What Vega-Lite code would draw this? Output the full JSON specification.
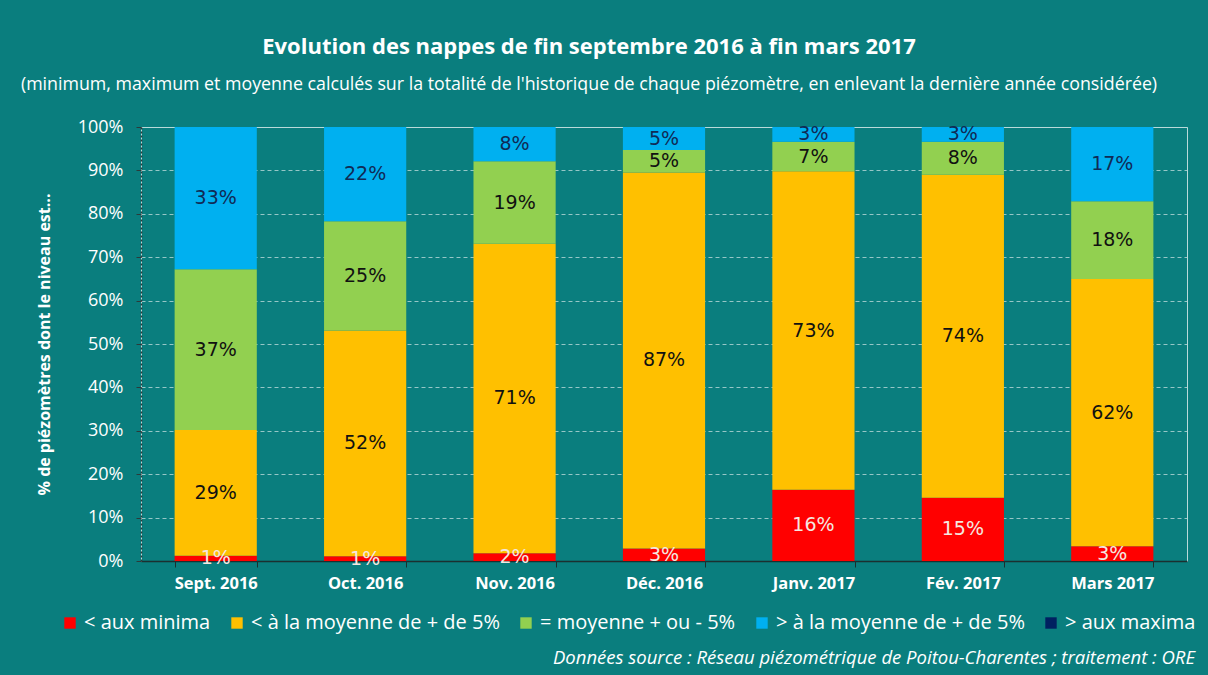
{
  "$schema": "https://vega.github.io/schema/vega-lite/v6.json",
  "autosize": {"type": "none"},
  "width": 1046,
  "height": 434,
  "padding": {"left": 141, "top": 127, "right": 21, "bottom": 114},
  "background": "#0a7e7e",
  "config": {
    "font": "Open Sans",
    "view": {"stroke": "#b9dada", "strokeWidth": 1}
  },
  "title": {
    "text": "Evolution des nappes de fin septembre 2016 à fin mars 2017",
    "subtitle": "(minimum, maximum et moyenne  calculés sur la totalité de l'historique de chaque piézomètre, en enlevant la dernière année considérée)",
    "font": "Open Sans",
    "fontSize": 22,
    "fontWeight": "bold",
    "color": "white",
    "subtitleFont": "Open Sans",
    "subtitleFontSize": 17.8,
    "subtitleColor": "white",
    "subtitlePadding": 17,
    "offset": 23,
    "anchor": "middle",
    "dx": -75
  },
  "data": {
    "values": [
      {"mois": "Sept. 2016", "classe": "< aux minima", "rang": 1, "part": 0.012},
      {"mois": "Sept. 2016", "classe": "< à la moyenne de + de 5%", "rang": 2, "part": 0.290},
      {"mois": "Sept. 2016", "classe": "= moyenne + ou - 5%", "rang": 3, "part": 0.370},
      {"mois": "Sept. 2016", "classe": "> à la moyenne de + de 5%", "rang": 4, "part": 0.328},
      {"mois": "Oct. 2016", "classe": "< aux minima", "rang": 1, "part": 0.011},
      {"mois": "Oct. 2016", "classe": "< à la moyenne de + de 5%", "rang": 2, "part": 0.520},
      {"mois": "Oct. 2016", "classe": "= moyenne + ou - 5%", "rang": 3, "part": 0.252},
      {"mois": "Oct. 2016", "classe": "> à la moyenne de + de 5%", "rang": 4, "part": 0.217},
      {"mois": "Nov. 2016", "classe": "< aux minima", "rang": 1, "part": 0.018},
      {"mois": "Nov. 2016", "classe": "< à la moyenne de + de 5%", "rang": 2, "part": 0.713},
      {"mois": "Nov. 2016", "classe": "= moyenne + ou - 5%", "rang": 3, "part": 0.190},
      {"mois": "Nov. 2016", "classe": "> à la moyenne de + de 5%", "rang": 4, "part": 0.079},
      {"mois": "Déc. 2016", "classe": "< aux minima", "rang": 1, "part": 0.029},
      {"mois": "Déc. 2016", "classe": "< à la moyenne de + de 5%", "rang": 2, "part": 0.866},
      {"mois": "Déc. 2016", "classe": "= moyenne + ou - 5%", "rang": 3, "part": 0.052},
      {"mois": "Déc. 2016", "classe": "> à la moyenne de + de 5%", "rang": 4, "part": 0.053},
      {"mois": "Janv. 2017", "classe": "< aux minima", "rang": 1, "part": 0.164},
      {"mois": "Janv. 2017", "classe": "< à la moyenne de + de 5%", "rang": 2, "part": 0.734},
      {"mois": "Janv. 2017", "classe": "= moyenne + ou - 5%", "rang": 3, "part": 0.068},
      {"mois": "Janv. 2017", "classe": "> à la moyenne de + de 5%", "rang": 4, "part": 0.034},
      {"mois": "Fév. 2017", "classe": "< aux minima", "rang": 1, "part": 0.146},
      {"mois": "Fév. 2017", "classe": "< à la moyenne de + de 5%", "rang": 2, "part": 0.744},
      {"mois": "Fév. 2017", "classe": "= moyenne + ou - 5%", "rang": 3, "part": 0.076},
      {"mois": "Fév. 2017", "classe": "> à la moyenne de + de 5%", "rang": 4, "part": 0.034},
      {"mois": "Mars 2017", "classe": "< aux minima", "rang": 1, "part": 0.034},
      {"mois": "Mars 2017", "classe": "< à la moyenne de + de 5%", "rang": 2, "part": 0.616},
      {"mois": "Mars 2017", "classe": "= moyenne + ou - 5%", "rang": 3, "part": 0.179},
      {"mois": "Mars 2017", "classe": "> à la moyenne de + de 5%", "rang": 4, "part": 0.171}
    ]
  },
  "encoding": {
    "x": {
      "field": "mois",
      "type": "nominal",
      "sort": ["Sept. 2016", "Oct. 2016", "Nov. 2016", "Déc. 2016", "Janv. 2017", "Fév. 2017", "Mars 2017"],
      "scale": {"paddingInner": 0.45, "paddingOuter": 0.225},
      "axis": {
        "title": null,
        "labelAngle": 0,
        "labelFont": "Open Sans",
        "labelFontSize": 16.5,
        "labelFontWeight": "bold",
        "labelColor": "white",
        "labelPadding": 8,
        "tickBand": "extent",
        "tickColor": "#1b3030",
        "tickSize": 6,
        "domainColor": "#1b3030",
        "domainWidth": 1.5
      }
    }
  },
  "layer": [
    {
      "mark": {"type": "bar"},
      "encoding": {
        "y": {
          "field": "part",
          "type": "quantitative",
          "stack": "zero",
          "scale": {"domain": [0, 1]},
          "axis": {
            "title": "% de piézomètres dont le niveau est...",
            "titleFont": "Open Sans",
            "titleFontSize": 16,
            "titleFontWeight": "bold",
            "titleColor": "white",
            "titlePadding": 25,
            "format": ".0%",
            "values": [0, 0.1, 0.2, 0.3, 0.4, 0.5, 0.6, 0.7, 0.8, 0.9, 1],
            "labelFont": "Open Sans",
            "labelFontSize": 18,
            "labelColor": "white",
            "labelPadding": 13,
            "labelOverlap": false,
            "tickColor": "#2b3a3a",
            "tickSize": 5,
            "domainColor": "#2b3a3a",
            "domainDash": [2, 2],
            "domainWidth": 1.5,
            "grid": true,
            "gridColor": "#b9dada",
            "gridDash": [4, 3],
            "gridOpacity": 0.8
          }
        },
        "color": {
          "field": "classe",
          "type": "nominal",
          "scale": {
            "domain": ["< aux minima", "< à la moyenne de + de 5%", "= moyenne + ou - 5%", "> à la moyenne de + de 5%", "> aux maxima"],
            "range": ["#ff0000", "#ffc000", "#92d050", "#00b0f0", "#002060"]
          },
          "legend": {
            "orient": "none",
            "legendX": -81,
            "legendY": 486,
            "direction": "horizontal",
            "symbolType": "square",
            "symbolSize": 130,
            "symbolStrokeWidth": 0,
            "labelFont": "Open Sans",
            "labelFontSize": 20,
            "labelColor": "white",
            "labelLimit": 400,
            "labelOffset": 4,
            "columnPadding": 16,
            "title": "Données source : Réseau piézométrique de Poitou-Charentes ; traitement : ORE",
            "titleOrient": "bottom",
            "titleAnchor": "end",
            "titleFont": "Open Sans",
            "titleFontSize": 18.5,
            "titleFontStyle": "italic",
            "titleFontWeight": "normal",
            "titleColor": "white",
            "titleLimit": 900,
            "titlePadding": 16
          }
        },
        "order": {"field": "rang", "type": "quantitative"}
      }
    },
    {
      "mark": {"type": "text", "font": "DejaVu Sans", "fontSize": 19, "baseline": "middle"},
      "encoding": {
        "y": {
          "field": "part",
          "type": "quantitative",
          "stack": "zero",
          "bandPosition": 0.5,
          "axis": {
            "title": "% de piézomètres dont le niveau est...",
            "titleFont": "Open Sans",
            "titleFontSize": 16,
            "titleFontWeight": "bold",
            "titleColor": "white",
            "titlePadding": 25,
            "format": ".0%",
            "values": [0, 0.1, 0.2, 0.3, 0.4, 0.5, 0.6, 0.7, 0.8, 0.9, 1],
            "labelFont": "Open Sans",
            "labelFontSize": 18,
            "labelColor": "white",
            "labelPadding": 13,
            "labelOverlap": false,
            "tickColor": "#2b3a3a",
            "tickSize": 5,
            "domainColor": "#2b3a3a",
            "domainDash": [2, 2],
            "domainWidth": 1.5,
            "grid": true,
            "gridColor": "#b9dada",
            "gridDash": [4, 3],
            "gridOpacity": 0.8
          }
        },
        "text": {"field": "part", "type": "quantitative", "format": ".0%"},
        "color": {
          "field": "classe",
          "type": "nominal",
          "scale": {
            "domain": ["< aux minima", "< à la moyenne de + de 5%", "= moyenne + ou - 5%", "> à la moyenne de + de 5%"],
            "range": ["#f4e8e0", "#111111", "#111111", "#102a55"]
          },
          "legend": null
        },
        "order": {"field": "rang", "type": "quantitative"}
      }
    }
  ],
  "resolve": {"scale": {"color": "independent"}}
}
